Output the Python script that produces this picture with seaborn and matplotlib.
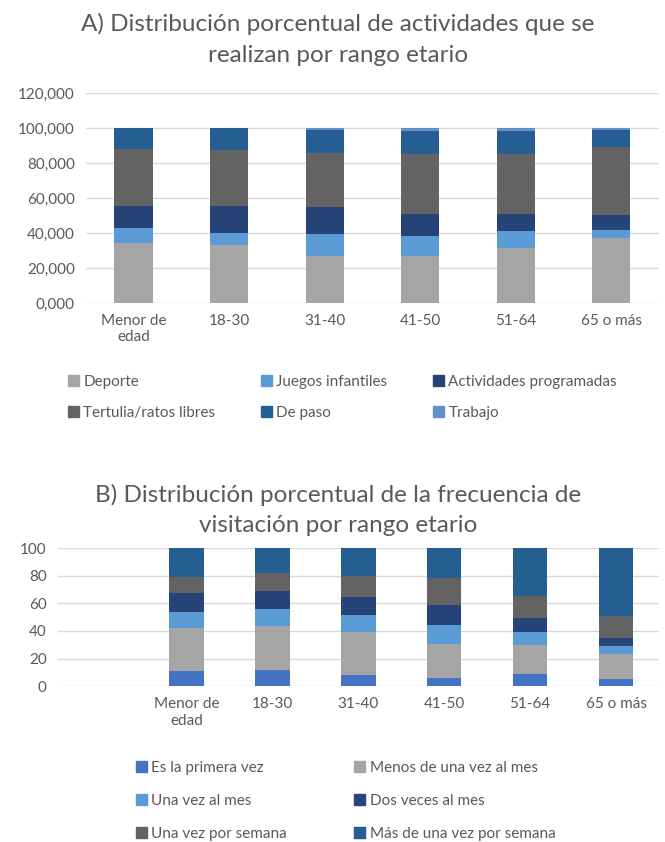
import numpy as np
import pandas as pd
import seaborn as sns
from matplotlib import pyplot as plt
from matplotlib.patches import Patch

sns.set_style("white")
plt.rcParams['font.family'] = ['Lato', 'DejaVu Sans']

TXT = "#595959"
GRID = "#D9D9D9"

# --- chart A: activities by age range (percent) ---
ages = ["Menor de\nedad", "18-30", "31-40", "41-50", "51-64", "65 o más"]
act_names = ["Deporte", "Juegos infantiles", "Actividades programadas",
             "Tertulia/ratos libres", "De paso", "Trabajo"]
deporte = [34.3, 33.1, 27.2, 27.2, 31.8, 37.5]
juegos = [8.6, 7.1, 12.4, 11.1, 9.5, 4.6]
actividades = [12.9, 15.6, 15.3, 12.7, 9.7, 8.2]
tertulia = [32.6, 32.0, 31.2, 34.5, 34.5, 38.8]
de_paso = [11.6, 12.2, 13.1, 13.2, 13.2, 10.1]
trabajo = [0.0, 0.0, 0.8, 1.3, 1.3, 0.8]
act_colors = ["#A5A5A5", "#5B9BD5", "#264478", "#636363", "#255E91", "#698ED0"]

# --- chart B: visit frequency by age range (percent) ---
freq_names = ["Es la primera vez", "Menos de una vez al mes", "Una vez al mes",
              "Dos veces al mes", "Una vez por semana", "Más de una vez por semana"]
primera = [10.9, 11.8, 7.8, 6.1, 8.5, 5.2]
menos_mes = [31.4, 31.7, 31.4, 24.6, 21.5, 18.4]
una_mes = [11.1, 12.3, 12.3, 13.5, 9.2, 5.7]
dos_mes = [14.0, 13.2, 13.3, 14.9, 10.0, 5.7]
una_semana = [11.8, 13.3, 15.1, 19.2, 16.5, 16.1]
mas_semana = [20.8, 17.7, 20.1, 21.7, 34.3, 48.9]
freq_colors = ["#4472C4", "#A5A5A5", "#5B9BD5", "#264478", "#636363", "#255E91"]


def stacked(ax, cats, series, colors, order):
    # draw cumulative totals from the top down so each layer covers the next
    df = pd.DataFrame(np.cumsum(np.array(series), axis=0).T, index=cats)
    for k in range(len(series) - 1, -1, -1):
        sns.barplot(x=df.index, y=df[k].values, order=order, color=colors[k],
                    width=0.4, saturation=1, ax=ax, linewidth=0)


def style_axes(ax):
    for s in ax.spines.values():
        s.set_visible(False)
    ax.grid(axis='y', color=GRID, linewidth=1)
    ax.set_axisbelow(True)
    ax.tick_params(axis='both', length=0, colors=TXT, labelsize=11, pad=8)
    ax.set_xlabel("")
    ax.set_ylabel("")


fig = plt.figure(figsize=(6.65, 8.42), dpi=100)

# chart A
axA = fig.add_axes([0.129, 0.640, 0.862, 0.249])
stacked(axA, ages, [deporte, juegos, actividades, tertulia, de_paso, trabajo], act_colors, ages)
style_axes(axA)
axA.set_ylim(0, 120)
axA.set_yticks(range(0, 121, 20))
axA.set_yticklabels([f"{v:.3f}".replace('.', ',') for v in range(0, 121, 20)])
axA.set_xlim(-0.5, 5.5)
fig.text(0.508, 0.953, "A) Distribución porcentual de actividades que se\nrealizan por rango etario",
         ha='center', va='center', fontsize=17.5, color=TXT, linespacing=1.55)
idx = [0, 3, 1, 4, 2, 5]
hA = [Patch(color=act_colors[i], label=act_names[i]) for i in idx]
fig.legend(handles=hA, ncol=3, loc='center', bbox_to_anchor=(0.515, 0.528), frameon=False,
           fontsize=11, labelcolor=TXT, handlelength=0.7, handleheight=0.7, handletextpad=0.3,
           columnspacing=3.0, labelspacing=1.1)

# chart B (first slot left empty, as in the original)
orderB = [""] + ages
axB = fig.add_axes([0.087, 0.185, 0.904, 0.164])
stacked(axB, ages, [primera, menos_mes, una_mes, dos_mes, una_semana, mas_semana], freq_colors, orderB)
style_axes(axB)
axB.set_ylim(0, 100)
axB.set_yticks(range(0, 101, 20))
axB.set_xlim(-0.5, 6.5)
fig.text(0.508, 0.394, "B) Distribución porcentual de la frecuencia de\nvisitación por rango etario",
         ha='center', va='center', fontsize=17.5, color=TXT, linespacing=1.55)
idx = [0, 2, 4, 1, 3, 5]
hB = [Patch(color=freq_colors[i], label=freq_names[i]) for i in idx]
fig.legend(handles=hB, ncol=2, loc='center', bbox_to_anchor=(0.52, 0.049), frameon=False,
           fontsize=11, labelcolor=TXT, handlelength=0.7, handleheight=0.7, handletextpad=0.3,
           columnspacing=4.4, labelspacing=1.25)

fig.savefig("out.png", dpi=100, facecolor="white")
